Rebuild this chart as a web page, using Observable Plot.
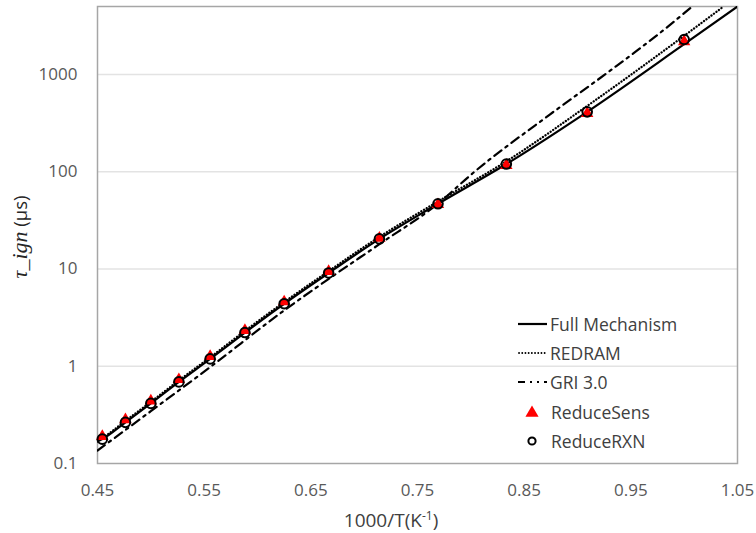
<!DOCTYPE html>
<html><head><meta charset="utf-8">
<script src="https://cdn.jsdelivr.net/npm/d3@7"></script>
<script src="https://cdn.jsdelivr.net/npm/@observablehq/plot@0.6"></script>
<style>
body{margin:0;background:#fff;}
#wrap{position:relative;width:756px;height:533px;}
#legend{position:absolute;left:516px;top:309px;font-family:"Open Sans";font-size:17.5px;color:#404040;}
.row{height:29.3px;display:flex;align-items:center;}
.row svg{flex:none;}
</style></head><body><div id="wrap"><div id="chart"></div><div id="legend"></div></div>
<script>
// ---- data ----
const xTicks = [0.45, 0.55, 0.65, 0.75, 0.85, 0.95, 1.05];
const yTicks = [0.1, 1, 10, 100, 1000];

const xMark = [0.4545, 0.4762, 0.5, 0.5263, 0.5556, 0.5882, 0.625, 0.6667, 0.7143, 0.7692, 0.8333, 0.9091, 1.0];
const reduceRXN  = [0.178, 0.265, 0.415, 0.69, 1.19, 2.22, 4.39, 9.1, 20.4, 46.8, 120, 413, 2290];
const reduceSens = [0.19, 0.282, 0.44, 0.73, 1.26, 2.34, 4.6, 9.45, 20.8, 46, 116, 398, 2180];

const xFull = [0.45, 0.4545, 0.4762, 0.5, 0.5263, 0.5556, 0.5882, 0.625, 0.6667, 0.7143, 0.7692, 0.8333, 0.9091, 1.0, 1.05];
const fullMech = [0.168, 0.178, 0.265, 0.415, 0.69, 1.19, 2.22, 4.39, 9.1, 20.4, 46.8, 120, 413, 2050, 5000];

const xRedram = [0.45, 0.4545, 0.4762, 0.5, 0.5263, 0.5556, 0.5882, 0.625, 0.6667, 0.7143, 0.7692, 0.8333, 0.9091, 1.0, 1.0369];
const redram = [0.174, 0.184, 0.275, 0.43, 0.715, 1.235, 2.31, 4.57, 9.5, 21.4, 49.5, 128, 475, 2500, 5000];

const xGri = [0.45, 0.5, 0.5556, 0.625, 0.6667, 0.7143, 0.7692, 0.802, 0.874, 0.93, 0.983, 1.0075];
const gri = [0.136, 0.345, 0.98, 3.75, 7.9, 18, 47, 97, 387, 1082, 3000, 5000];

const legendItems = ["Full Mechanism", "REDRAM", "GRI 3.0", "ReduceSens", "ReduceRXN"];

// ---- tables ----
const zip = (xs, ys) => xs.map((x, i) => ({x, y: ys[i]}));
const fullData = zip(xFull, fullMech);
const redramData = zip(xRedram, redram);
const griData = zip(xGri, gri);
const sensData = zip(xMark, reduceSens);
const rxnData = zip(xMark, reduceRXN);

const chart = Plot.plot({
  width: 756, height: 533,
  marginLeft: 97, marginRight: 19, marginTop: 6, marginBottom: 70,
  style: {fontFamily: "Open Sans", fontSize: "17px", color: "#595959", background: "#fff"},
  x: {domain: [0.45, 1.05]},
  y: {type: "log", domain: [0.1, 5000]},
  marks: [
    Plot.ruleY(yTicks.slice(1), {stroke: "#e3e3e3", strokeWidth: 1.3}),
    Plot.frame({stroke: "#a6a6a6", strokeWidth: 1.5}),
    Plot.axisX({ticks: xTicks, tickSize: 0, tickPadding: 20, tickFormat: d3.format(".2f"), label: null}),
    Plot.axisY({ticks: yTicks, tickSize: 0, tickPadding: 20, tickFormat: d3.format("~g"), label: null}),
    Plot.line(griData, {x: "x", y: "y", stroke: "black", strokeWidth: 2.2, strokeDasharray: "9,5,2.5,5", curve: "monotone-x", clip: true}),
    Plot.line(redramData, {x: "x", y: "y", stroke: "black", strokeWidth: 2.3, strokeDasharray: "0.1,3", strokeLinecap: "round", curve: "monotone-x", clip: true}),
    Plot.line(fullData, {x: "x", y: "y", stroke: "black", strokeWidth: 2.2, curve: "monotone-x", clip: true}),
    Plot.dot(sensData, {x: "x", y: "y", symbol: "triangle", fill: "red", r: 4.6}),
    Plot.dot(rxnData, {x: "x", y: "y", r: 4.8, stroke: "black", strokeWidth: 2, fill: "none"})
  ]
});
document.getElementById("chart").appendChild(chart);

// axis titles
const svg = d3.select(chart);
const xt = svg.append("text").attr("x", 391).attr("y", 527).attr("text-anchor", "middle")
  .style("font-family", "Open Sans").style("font-size", "19px").attr("fill", "#404040");
xt.append("tspan").text("1000/T(K");
xt.append("tspan").attr("font-size", "12px").attr("dy", "-7").text("-1");
xt.append("tspan").attr("dy", "7").text(")");

const yt = svg.append("text").attr("transform", "translate(27,237) rotate(-90)").attr("text-anchor", "middle").attr("fill", "#262626");
yt.append("tspan").style("font-family", "Liberation Serif").style("font-style", "italic").style("font-size", "22px").text("τ_ign");
yt.append("tspan").style("font-family", "Open Sans").style("font-size", "18.5px").text(" (μs)");

// legend
const lg = d3.select("#legend");
const sampleW = 34;
legendItems.forEach((name, i) => {
  const row = lg.append("div").attr("class", "row");
  const s = row.append("svg").attr("width", sampleW).attr("height", 20);
  if (i === 0) s.append("line").attr("x1", 2).attr("x2", 31).attr("y1", 10).attr("y2", 10).attr("stroke", "black").attr("stroke-width", 2.2);
  if (i === 1) s.append("line").attr("x1", 3).attr("x2", 31).attr("y1", 10).attr("y2", 10).attr("stroke", "black").attr("stroke-width", 1.8).attr("stroke-linecap", "round").attr("stroke-dasharray", "0.1,3.1");
  if (i === 2) s.append("line").attr("x1", 2).attr("x2", 31).attr("y1", 10).attr("y2", 10).attr("stroke", "black").attr("stroke-width", 2.2).attr("stroke-dasharray", "7,5,2,5,2,5");
  if (i === 3) s.append("path").attr("d", d3.symbol(d3.symbolTriangle, 75)()).attr("transform", "translate(16,11)").attr("fill", "red");
  if (i === 4) s.append("circle").attr("cx", 16).attr("cy", 10).attr("r", 3.6).attr("fill", "none").attr("stroke", "black").attr("stroke-width", 2);
  row.append("span").style("margin-left", i < 3 ? "0px" : "1px").text(name);
});
</script>
</body></html>
